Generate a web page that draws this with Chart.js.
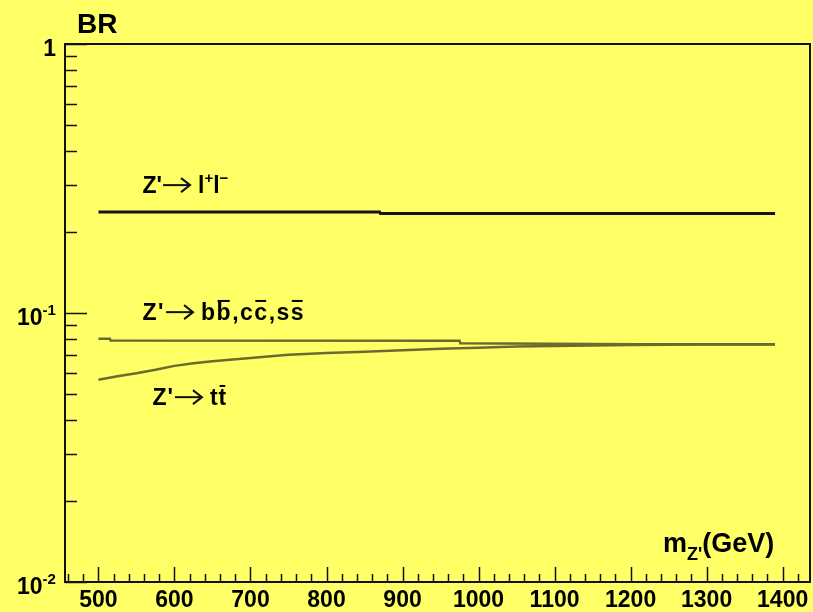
<!DOCTYPE html>
<html>
<head>
<meta charset="utf-8">
<script src="https://cdn.jsdelivr.net/npm/chart.js@4.4.1/dist/chart.umd.min.js"></script>
<style>
  html, body { margin: 0; padding: 0; background: #ffff66; }
  canvas { display: block; }
</style>
</head>
<body>
<canvas id="brChart" width="813" height="612"></canvas>
<script>
// Z' -> l+l- : flat, small step near 870 GeV
const massLeptons = [500, 870, 871, 1390];
const brLeptons = [0.2376, 0.2376, 0.2343, 0.2343];
// Z' -> bb, cc, ss
const massLightQuarks = [500, 515, 516, 975, 976, 1210, 1390];
const brLightQuarks = [0.0802, 0.0802, 0.0791, 0.0789, 0.0772, 0.0766, 0.0765];
// Z' -> tt
const massTop = [500, 525, 550, 575, 600, 625, 650, 700, 750, 800, 850, 900, 950, 1000, 1050, 1100, 1150, 1200, 1250, 1300, 1350, 1390];
const brTop = [0.0565, 0.0582, 0.0597, 0.0615, 0.0636, 0.0650, 0.0661, 0.0681, 0.0699, 0.0710, 0.0718, 0.0727, 0.0736, 0.0743, 0.0751, 0.0754, 0.0757, 0.0760, 0.0762, 0.0763, 0.0764, 0.0764];

const xTickLabels = ["500", "600", "700", "800", "900", "1000", "1100", "1200", "1300", "1400"];

const bgColor = '#ffff66';
const olive = '#6b6b30';
const FONT = '"Liberation Sans", Arial, sans-serif';

function toPoints(xs, ys) {
    return xs.map((m, i) => ({ x: m, y: ys[i] }));
}

// draws a text made of pieces (normal, superscript, subscript, overlined, arrow)
function drawRich(ctx, x, y, parts, size, spacing) {
    let cx = x;
    spacing = spacing || 0;
    parts.forEach(p => {
        if (p.arrow) {
            const ay = y - size * 0.33;
            ctx.lineWidth = 2;
            ctx.beginPath();
            ctx.moveTo(cx + 1, ay);
            ctx.lineTo(cx + 27, ay);
            ctx.stroke();
            ctx.beginPath();
            ctx.moveTo(cx + 19, ay - 7);
            ctx.lineTo(cx + 28, ay);
            ctx.lineTo(cx + 19, ay + 7);
            ctx.stroke();
            cx += 36;
            return;
        }
        let fs = size, dy = 0;
        if (p.sup) { fs = Math.round(size * 0.65); dy = -size * 0.42; }
        if (p.sub) { fs = Math.round(size * 0.65); dy = size * 0.3; }
        ctx.font = 'bold ' + fs + 'px ' + FONT;
        const start = cx;
        for (const ch of p.t) {
            ctx.fillText(ch, cx, y + dy);
            cx += ctx.measureText(ch).width + spacing;
        }
        if (p.bar) {
            ctx.fillRect(start + 1, y + dy - fs * 0.86, cx - start - spacing - 2, 2);
        }
    });
}

const framePlugin = {
    id: 'frame',
    beforeDraw(chart) {
        const ctx = chart.ctx;
        ctx.save();
        ctx.fillStyle = bgColor;
        ctx.fillRect(0, 0, chart.width, chart.height);
        ctx.restore();
    },
    afterDraw(chart) {
        const ctx = chart.ctx;
        const a = chart.chartArea;
        const xs = chart.scales.x, ys = chart.scales.y;
        ctx.save();
        ctx.strokeStyle = '#111';
        ctx.fillStyle = '#000';
        ctx.lineWidth = 2;
        ctx.strokeRect(a.left, a.top, a.right - a.left, a.bottom - a.top);

        // y ticks (inside, on the left)
        ctx.lineWidth = 1.5;
        for (let d = -2; d <= 0; d++) {
            for (let k = 1; k <= 9; k++) {
                const v = k * Math.pow(10, d);
                if (v > 1.0001) break;
                const py = Math.round(ys.getPixelForValue(v)) + 0.5;
                const len = k === 1 ? 22 : 12;
                ctx.beginPath();
                ctx.moveTo(a.left, py);
                ctx.lineTo(a.left + len, py);
                ctx.stroke();
            }
        }
        // x ticks (inside, on the bottom)
        for (let v = 460; v <= 1420; v += 20) {
            const px = Math.round(xs.getPixelForValue(v)) + 0.5;
            const len = v % 100 === 0 ? 15 : 8;
            ctx.beginPath();
            ctx.moveTo(px, a.bottom);
            ctx.lineTo(px, a.bottom - len);
            ctx.stroke();
        }

        // x tick labels
        ctx.font = 'bold 23px ' + FONT;
        ctx.textAlign = 'center';
        ctx.textBaseline = 'alphabetic';
        xTickLabels.forEach(lab => {
            ctx.fillText(lab, xs.getPixelForValue(Number(lab)), a.bottom + 25);
        });

        // y tick labels
        ctx.textAlign = 'right';
        ctx.fillText('1', 56, ys.getPixelForValue(1) + 12);
        ctx.textAlign = 'left';
        [[0.1, '-1'], [0.01, '-2']].forEach(([v, e]) => {
            const py = ys.getPixelForValue(v);
            drawRich(ctx, 17, py + 12, [{ t: '10' }, { t: e, sup: true }], 23);
        });

        // axis titles
        ctx.font = 'bold 28px ' + FONT;
        ctx.fillText('BR', 77, 33);
        drawRich(ctx, 663, 552, [{ t: 'm' }, { t: "Z'", sub: true }, { t: '(GeV)' }], 27);

        // curve annotations
        const arrow = { arrow: true };
        drawRich(ctx, xs.getPixelForValue(558), ys.getPixelForValue(0.28),
            [{ t: "Z'" }, arrow, { t: 'l' }, { t: '+', sup: true }, { t: 'l' }, { t: '\u2212', sup: true }], 23);
        drawRich(ctx, xs.getPixelForValue(558), ys.getPixelForValue(0.0944),
            [{ t: "Z'" }, arrow, { t: 'b' }, { t: 'b', bar: true }, { t: ',c' }, { t: 'c', bar: true }, { t: ',s' }, { t: 's', bar: true }], 23, 1.5);
        drawRich(ctx, xs.getPixelForValue(571), ys.getPixelForValue(0.0456),
            [{ t: "Z'" }, arrow, { t: 't' }, { t: 't', bar: true }], 23, 1);
        ctx.restore();
    }
};

new Chart(document.getElementById('brChart').getContext('2d'), {
    type: 'line',
    data: {
        datasets: [
            { label: 'Z\' -> ll', data: toPoints(massLeptons, brLeptons), borderColor: '#151515', borderWidth: 3 },
            { label: 'Z\' -> bb,cc,ss', data: toPoints(massLightQuarks, brLightQuarks), borderColor: olive, borderWidth: 2.5 },
            { label: 'Z\' -> tt', data: toPoints(massTop, brTop), borderColor: olive, borderWidth: 2.5 }
        ]
    },
    options: {
        responsive: false,
        animation: false,
        devicePixelRatio: 1,
        layout: { padding: { left: 65, top: 44, right: 3, bottom: 30 } },
        elements: { point: { radius: 0 }, line: { tension: 0, fill: false } },
        scales: {
            x: { type: 'linear', min: 456, max: 1436, display: false },
            y: { type: 'logarithmic', min: 0.01, max: 1, display: false }
        },
        plugins: { legend: { display: false }, tooltip: { enabled: false } }
    },
    plugins: [framePlugin]
});
</script>
</body>
</html>
